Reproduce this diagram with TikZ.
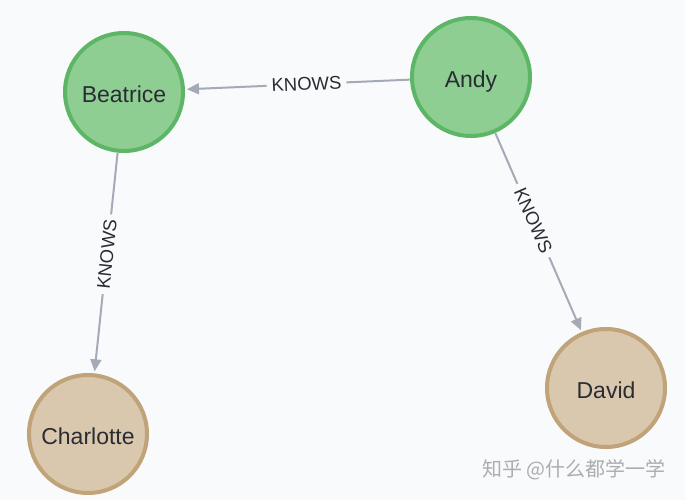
\documentclass[tikz,border=0pt]{standalone}
\usepackage{fontspec}
\setmainfont{Liberation Sans}
\newfontfamily\cjk{Noto Sans CJK SC}
\usetikzlibrary{arrows.meta}
\definecolor{bgc}{HTML}{F8FAFC}
\definecolor{gfill}{HTML}{8FCE93}
\definecolor{gdraw}{HTML}{5DB665}
\definecolor{tfill}{HTML}{D9C8AE}
\definecolor{tdraw}{HTML}{C0A378}
\definecolor{relc}{HTML}{A5ABB6}
\definecolor{txtc}{HTML}{2A2C34}
\tikzset{
  person/.style={circle,minimum size=118pt,inner sep=0pt,line width=4pt,
    font=\fontsize{23}{27}\selectfont,text=txtc,text height=21.5pt,text depth=0pt},
  greenp/.style={person,fill=gfill,draw=gdraw},
  tanp/.style={person,fill=tfill,draw=tdraw},
  rel/.style={draw=relc,line width=2pt,shorten >=2pt,
    -{Triangle[length=12pt,width=11pt]}},
  rellabel/.style={sloped,fill=bgc,inner xsep=5pt,inner ysep=1pt,
    font=\fontsize{18.5}{22}\selectfont,text=txtc},
  wm/.style={font=\cjk\fontsize{20}{23}\selectfont,text=black!32}
}
\begin{document}
\begin{tikzpicture}[x=1pt,y=-1pt]
\fill[bgc] (0,0) rectangle (685,500);
\useasboundingbox (0,0) rectangle (685,500);
\node[greenp] (beatrice) at (124,92) {Beatrice};
\node[greenp] (andy) at (471,77) {Andy};
\node[tanp] (charlotte) at (88,434) {Charlotte};
\node[tanp] (david) at (606,388) {David};
\draw[rel] (andy) -- node[rellabel,pos=0.46] (l1) {KNOWS} (beatrice);
\draw[rel] (beatrice) -- node[rellabel,pos=0.46] (l2) {KNOWS} (charlotte);
\draw[rel] (andy) -- node[rellabel,pos=0.44] (l3) {KNOWS} (david);
\node[wm,anchor=west] (wmark) at (479,470) {知乎 @什么都学一学};
\end{tikzpicture}
\end{document}
